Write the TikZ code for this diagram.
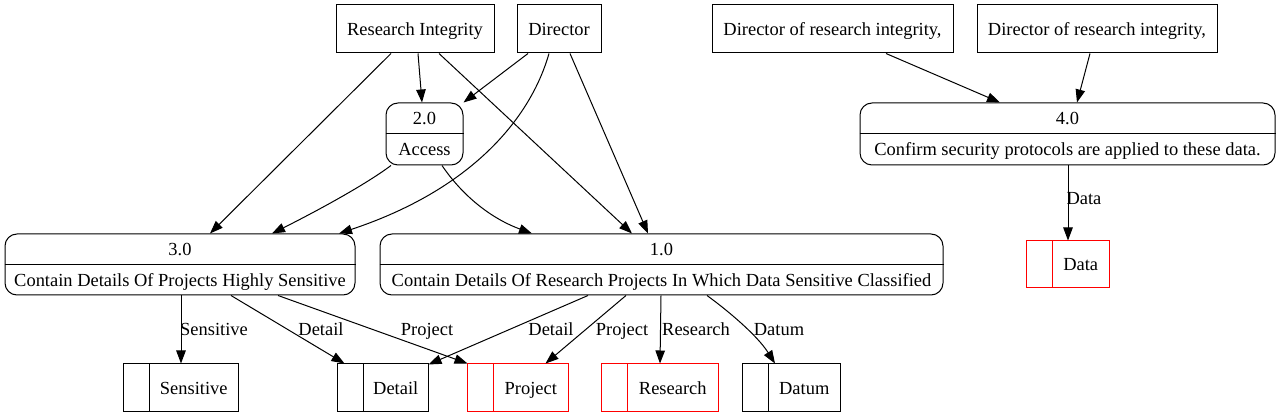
\documentclass[tikz,border=0pt]{standalone}
\usepackage{fontspec}
\setmainfont{Liberation Serif}
\usetikzlibrary{calc,arrows.meta}
\begin{document}
\begin{tikzpicture}[x=1pt,y=-1pt,
  every node/.style={font=\fontsize{18.45}{22}\selectfont, inner sep=0pt, text height=17pt, text depth=4pt},
  ent/.style={draw, line width=1pt, minimum height=48pt, anchor=center},
  proc/.style={draw, line width=1pt, rounded corners=12pt, minimum height=61pt},
  store/.style={draw, line width=1pt, minimum height=48pt},
  flow/.style={line width=1pt, -{Triangle[length=13pt,width=9.5pt]}}
]
\useasboundingbox (0,0) rectangle (1280,419);
% external entities
\node[ent, minimum width=158pt] (ri) at (415,29) {Research Integrity};
\node[ent, minimum width=84pt] (dir) at (559,29) {Director};
\node[ent, minimum width=241pt] (dri1) at (832.5,29) {Director of research integrity,};
\node[ent, minimum width=240pt] (dri2) at (1097,29) {Director of research integrity,};
% processes
\node[proc, minimum width=77pt, minimum height=62pt] (p2) at (424.5,134) {};
\node[proc, minimum width=415pt, minimum height=62pt] (p4) at (1067.5,134) {};
\node[proc, minimum width=350pt] (p3) at (180,264.5) {};
\node[proc, minimum width=563pt] (p1) at (661.5,264.5) {};
\foreach \p/\n/\t in {p2/2.0/Access, p4/4.0/Confirm security protocols are applied to these data., p3/3.0/Contain Details Of Projects Highly Sensitive, p1/1.0/Contain Details Of Research Projects In Which Data Sensitive Classified}{
  \draw[line width=1pt] (\p.west) -- (\p.east);
  \node (\p top) at ($(\p.center)+(0,-15.5)$) {\n};
  \node (\p bot) at ($(\p.center)+(0,15.5)$) {\t};
}
% data stores
\foreach \s/\c/\w/\t/\col in {sSens/180.5/115/Sensitive/black, sDet/382.5/91/Detail/black, sProj/517.5/101/Project/red, sRes/659.5/117/Research/red, sDat/791/98/Datum/black}{
  \node[store, draw=\col, minimum width=\w pt] (\s) at (\c,388) {};
  \draw[line width=1pt, draw=\col] ($(\s.north west)+(26.5,0)$) -- ($(\s.south west)+(26.5,0)$);
  \node (\s txt) at ($(\s.center)+(13.25,0)$) {\t};
}
\node[store, draw=red, minimum width=83pt, minimum height=47pt] (sData) at (1067.5,264.5) {};
\draw[line width=1pt, draw=red] ($(sData.north west)+(26.5,0)$) -- ($(sData.south west)+(26.5,0)$);
\node (sData txt) at ($(sData.center)+(13.25,0)$) {Data};
% flows from entities
\draw[flow] ($(ri.south)+(-24,0)$) -- ($(p3.north)+(30,0)$);
\draw[flow] ($(ri.south)+(3,0)$) -- ($(p2.north)+(-2.5,0)$);
\draw[flow] ($(ri.south)+(24,0)$) -- ($(p1.north)+(-29.5,0)$);
\draw[flow] ($(dir.south)+(-31,0)$) -- ($(p2.north east)+(0,0)$);
\draw[flow] ($(dir.south)+(-10,0)$) .. controls (530,120) and (470,190) .. ($(p3.north)+(159,0)$);
\draw[flow] ($(dir.south)+(11,0)$) -- ($(p1.north)+(-13.5,0)$);
\draw[flow] ($(p2.south)+(-33.5,0)$) .. controls (365,185) and (315,212) .. ($(p3.north)+(92,0)$);
\draw[flow] ($(p2.south)+(17.5,0)$) .. controls (462,195) and (490,218) .. ($(p1.north)+(-129.5,0)$);
\draw[flow] ($(dri1.south)+(53.5,0)$) -- ($(p4.north)+(-67.5,0)$);
\draw[flow] ($(dri2.south)+(-7,0)$) -- ($(p4.north)+(9.5,0)$);
% flows to stores
\draw[flow] ($(p4.south)+(0.5,0)$) -- ($(sData.north)+(0.5,0)$);
\node at (1084,198) {Data};
\draw[flow] ($(p3.south)+(1,0)$) -- ($(sSens.north)+(0.5,0)$);
\node at (214,329) {Sensitive};
\draw[flow] ($(p3.south)+(51,0)$) -- ($(sDet.north west)+(8,0)$);
\node at (321,329) {Detail};
\draw[flow] ($(p3.south)+(98,0)$) -- ($(sProj.north west)+(1,0)$);
\node at (427,329) {Project};
\draw[flow] ($(p1.south)+(-73.5,0)$) -- ($(sDet.north east)+(0,1)$);
\node at (551,329) {Detail};
\draw[flow] ($(p1.south)+(-35.5,0)$) -- ($(sProj.north east)+(-23,0)$);
\node at (622,329) {Project};
\draw[flow] ($(p1.south)+(-0.5,0)$) -- ($(sRes.north)+(0.5,0)$);
\node at (696,329) {Research};
\draw[flow] ($(p1.south)+(45.5,0)$) .. controls (727,310) and (757,335) .. ($(sDat.north)+(-16,0)$);
\node at (779,329) {Datum};
\end{tikzpicture}
\end{document}
